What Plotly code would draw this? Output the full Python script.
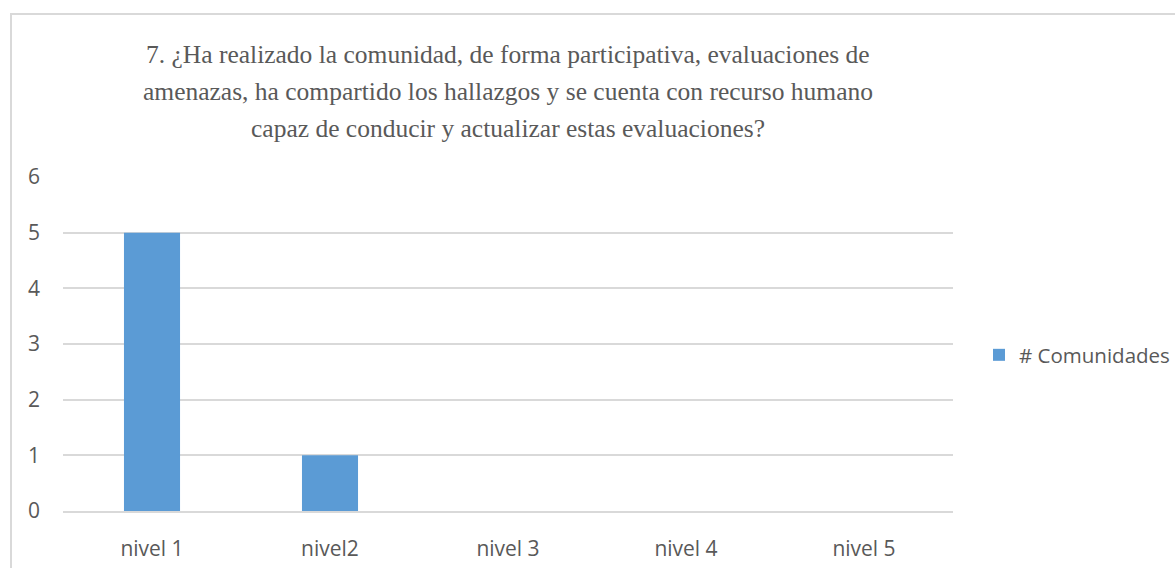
import plotly.graph_objects as go

categories = ["nivel 1", "nivel2", "nivel 3", "nivel 4", "nivel 5"]
values = [5, 1, 0, 0, 0]
series_name = "# Comunidades"
y_ticks = [0, 1, 2, 3, 4, 5, 6]
title_lines = [
    "7. ¿Ha realizado la comunidad, de forma participativa, evaluaciones de",
    "amenazas, ha compartido los hallazgos y se cuenta con recurso humano",
    "capaz de conducir y actualizar estas evaluaciones?",
]

W, H = 1175, 568
L, R, T, B = 63, 953, 177, 511
pw, ph = R - L, B - T
title_mid_px = [55, 91, 128]


def px_x(v):
    return (v - L) / pw


def px_y(v):
    return (B - v) / ph


fig = go.Figure()
fig.add_trace(go.Bar(x=categories, y=values, name=series_name,
                     marker=dict(color="#5B9BD5", line=dict(width=0)),
                     showlegend=True))

annotations = [dict(text=t, xref="paper", yref="paper", x=0.5, y=px_y(yp),
                    xanchor="center", yanchor="middle", showarrow=False, align="center",
                    font=dict(family="Liberation Serif", size=25.5, color="#595959"))
               for t, yp in zip(title_lines, title_mid_px)]

border = dict(color="#D9D9D9", width=2)
fig.update_layout(
    width=W, height=H,
    margin=dict(l=L, r=W - R, t=T, b=H - B, pad=0, autoexpand=False),
    paper_bgcolor="white", plot_bgcolor="white",
    bargap=0.685,
    showlegend=True,
    font=dict(family="Open Sans", color="#595959"),
    legend=dict(x=px_x(979), y=px_y(355), xanchor="left", yanchor="middle",
                font=dict(family="Open Sans", size=20.5, color="#595959"),
                bgcolor="rgba(0,0,0,0)", itemwidth=30),
    xaxis=dict(showgrid=False, zeroline=False, showline=True, linecolor="#D9D9D9", linewidth=2,
               tickfont=dict(family="Open Sans", size=21, color="#595959"),
               ticks="", ticklabelstandoff=18, fixedrange=True, automargin=False),
    yaxis=dict(range=[0, 6], tickvals=y_ticks, showgrid=True, gridcolor="#D9D9D9", gridwidth=1.5,
               zeroline=False, showline=False,
               tickfont=dict(family="Open Sans", size=21, color="#595959"),
               ticks="", ticklabelstandoff=22, fixedrange=True, automargin=False),
    annotations=annotations,
    shapes=[
        dict(type="line", xref="paper", yref="paper", x0=px_x(10), x1=px_x(W), y0=px_y(14), y1=px_y(14),
             line=border, layer="below"),
        dict(type="line", xref="paper", yref="paper", x0=px_x(11), x1=px_x(11), y0=px_y(13), y1=px_y(H),
             line=border, layer="below"),
    ],
)

post = (
    "document.documentElement.style.margin='0';"
    "document.documentElement.style.overflow='hidden';"
    "document.body.style.margin='0';"
    "document.body.style.overflow='hidden';"
    "document.querySelectorAll('.plotly-graph-div, .svg-container').forEach(function(e){e.style.overflow='hidden';});"
)
fig.write_html("out.html", config={"displayModeBar": False}, post_script=post)
